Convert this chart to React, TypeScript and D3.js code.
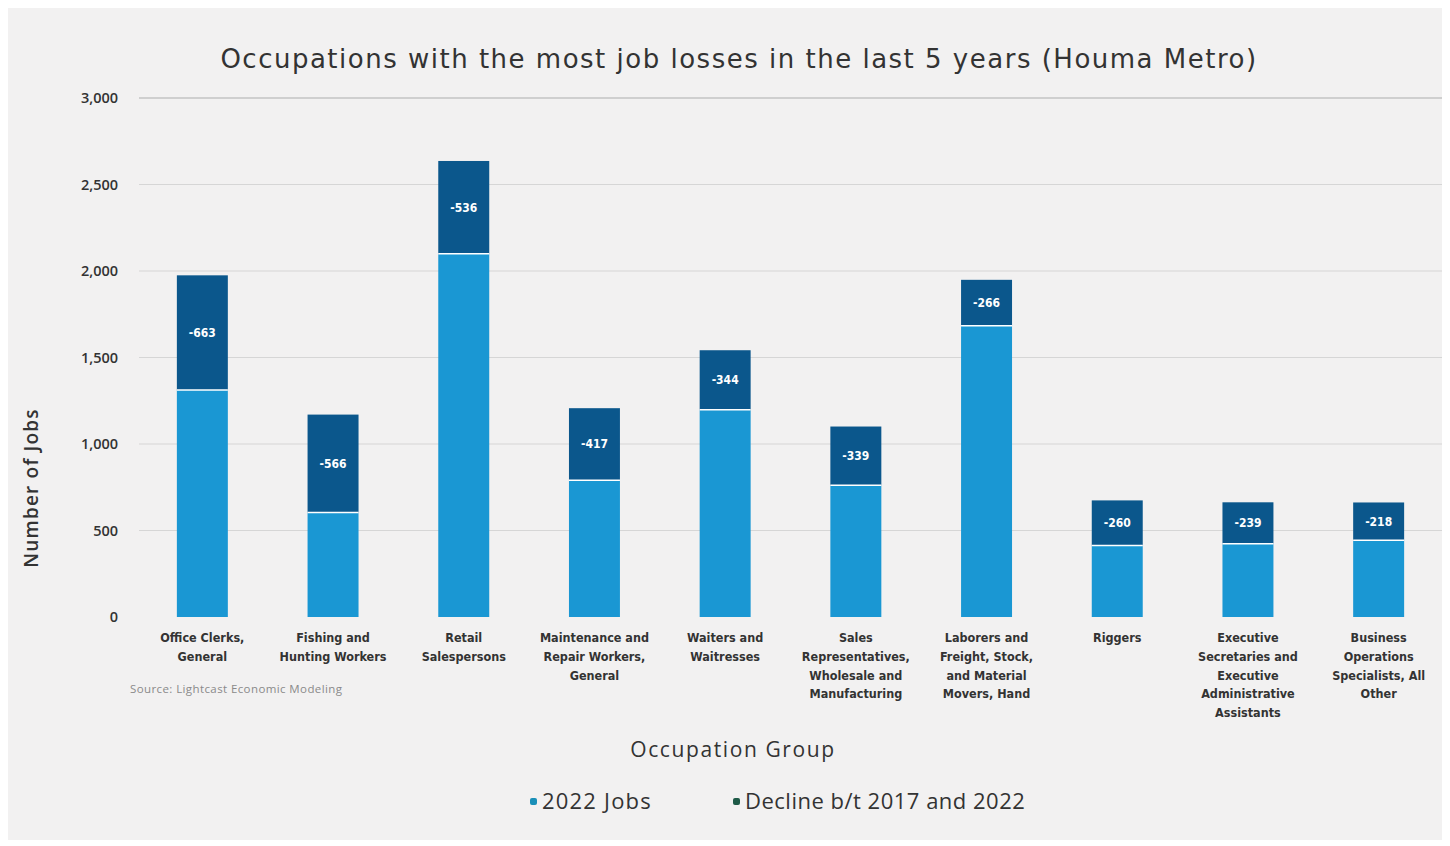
import React from "react";
import * as d3 from "d3";

const categories = [
	"Office Clerks, General",
	"Fishing and Hunting Workers",
	"Retail Salespersons",
	"Maintenance and Repair Workers, General",
	"Waiters and Waitresses",
	"Sales Representatives, Wholesale and Manufacturing",
	"Laborers and Freight, Stock, and Material Movers, Hand",
	"Riggers",
	"Executive Secretaries and Executive Administrative Assistants",
	"Business Operations Specialists, All Other",
];

// how each category name wraps under its bar
const tickLines = [
	["Office Clerks,", "General"],
	["Fishing and", "Hunting Workers"],
	["Retail", "Salespersons"],
	["Maintenance and", "Repair Workers,", "General"],
	["Waiters and", "Waitresses"],
	["Sales", "Representatives,", "Wholesale and", "Manufacturing"],
	["Laborers and", "Freight, Stock,", "and Material", "Movers, Hand"],
	["Riggers"],
	["Executive", "Secretaries and", "Executive", "Administrative", "Assistants"],
	["Business", "Operations", "Specialists, All", "Other"],
];

const jobs2022 = [1312, 604, 2100, 790, 1198, 762, 1683, 414, 424, 444];
const decline = [663, 566, 536, 417, 344, 339, 266, 260, 239, 218];
const yTicks = [0, 500, 1000, 1500, 2000, 2500, 3000];

const W = 1440;
const H = 832;
const margin = { top: 90, right: 4, bottom: 223, left: 129 };

const LIGHT = "#1a97d3";
const DARK = "#0b578c";
const TEXT = "#333333";
const FONT = "'Open Sans', Lato, sans-serif";

export default function App() {
	const x = d3
		.scaleBand<string>()
		.domain(categories)
		.range([margin.left, W - margin.right])
		.paddingInner(0.61)
		.paddingOuter(0.305);

	const y = d3
		.scaleLinear()
		.domain([0, 3000])
		.range([H - margin.bottom, margin.top]);

	const fmt = d3.format(",");
	const bw = x.bandwidth();

	return (
		<svg width={W} height={H} style={{ display: "block", fontFamily: FONT }}>
			<rect width={W} height={H} fill="#f2f1f1" />
			<text
				x={731}
				y={60}
				textAnchor="middle"
				fontSize={26}
				letterSpacing={1.5}
				fill={TEXT}
				fontFamily="'DejaVu Sans', sans-serif"
			>
				Occupations with the most job losses in the last 5 years (Houma Metro)
			</text>

			{/* gridlines + y ticks */}
			{yTicks.map((t) => (
				<g key={t}>
					{t > 0 && (
						<line
							x1={margin.left + 2}
							x2={W - 2}
							y1={y(t)}
							y2={y(t)}
							stroke={t === 3000 ? "#cfcfcf" : "#d6d6d6"}
							strokeWidth={t === 3000 ? 2 : 1.2}
						/>
					)}
					<text
						x={110}
						y={y(t)}
						dy="0.35em"
						textAnchor="end"
						fontSize={14.5}
						fontWeight={600}
						fill={TEXT}
					>
						{fmt(t)}
					</text>
				</g>
			))}

			<text
				transform={`translate(30,${480}) rotate(-90)`}
				textAnchor="middle"
				fontSize={19}
				fontWeight={600}
				letterSpacing={1.2}
				fill={TEXT}
			>
				Number of Jobs
			</text>

			{/* bars */}
			{categories.map((c, i) => {
				const bx = x(c)!;
				const yJobs = y(jobs2022[i]);
				const yTop = y(jobs2022[i] + decline[i]);
				return (
					<g key={c}>
						<rect
							x={bx}
							y={yJobs}
							width={bw}
							height={y(0) - yJobs}
							fill={LIGHT}
						/>
						<rect
							x={bx}
							y={yTop}
							width={bw}
							height={yJobs - yTop}
							fill={DARK}
						/>
						<line
							x1={bx}
							x2={bx + bw}
							y1={yJobs}
							y2={yJobs}
							stroke="#ffffff"
							strokeWidth={1.5}
						/>
						<text
							x={bx + bw / 2}
							y={(yJobs + yTop) / 2}
							dy="0.35em"
							textAnchor="middle"
							fontSize={12}
							fontWeight={700}
							fill="#ffffff"
							fontFamily="'DejaVu Sans Condensed', 'DejaVu Sans', sans-serif"
						>
							-{decline[i]}
						</text>
						{tickLines[i].map((ln, k) => (
							<text
								key={k}
								x={bx + bw / 2}
								y={634 + k * 18.8}
								textAnchor="middle"
								fontSize={12.5}
								fontWeight={700}
								fill={TEXT}
								fontFamily="'DejaVu Sans Condensed', 'DejaVu Sans', sans-serif"
							>
								{ln}
							</text>
						))}
					</g>
				);
			})}

			<text x={122} y={685} fontSize={11.5} letterSpacing={0.4} fill="#8a8a8a">
				Source: Lightcast Economic Modeling
			</text>

			<text
				x={725}
				y={749}
				textAnchor="middle"
				fontSize={21}
				fontWeight={500}
				letterSpacing={1.6}
				fill={TEXT}
			>
				Occupation Group
			</text>

			{/* legend */}
			<g>
				<rect x={522} y={790} width={7} height={7} rx={2} fill="#1a8fb8" />
				<text x={534} y={801} fontSize={22} letterSpacing={1.2} fill={TEXT}>
					2022 Jobs
				</text>
				<rect x={725} y={790} width={7} height={7} rx={2} fill="#1f5a47" />
				<text x={737} y={801} fontSize={22} letterSpacing={0.5} fill={TEXT}>
					Decline b/t 2017 and 2022
				</text>
			</g>
		</svg>
	);
}
